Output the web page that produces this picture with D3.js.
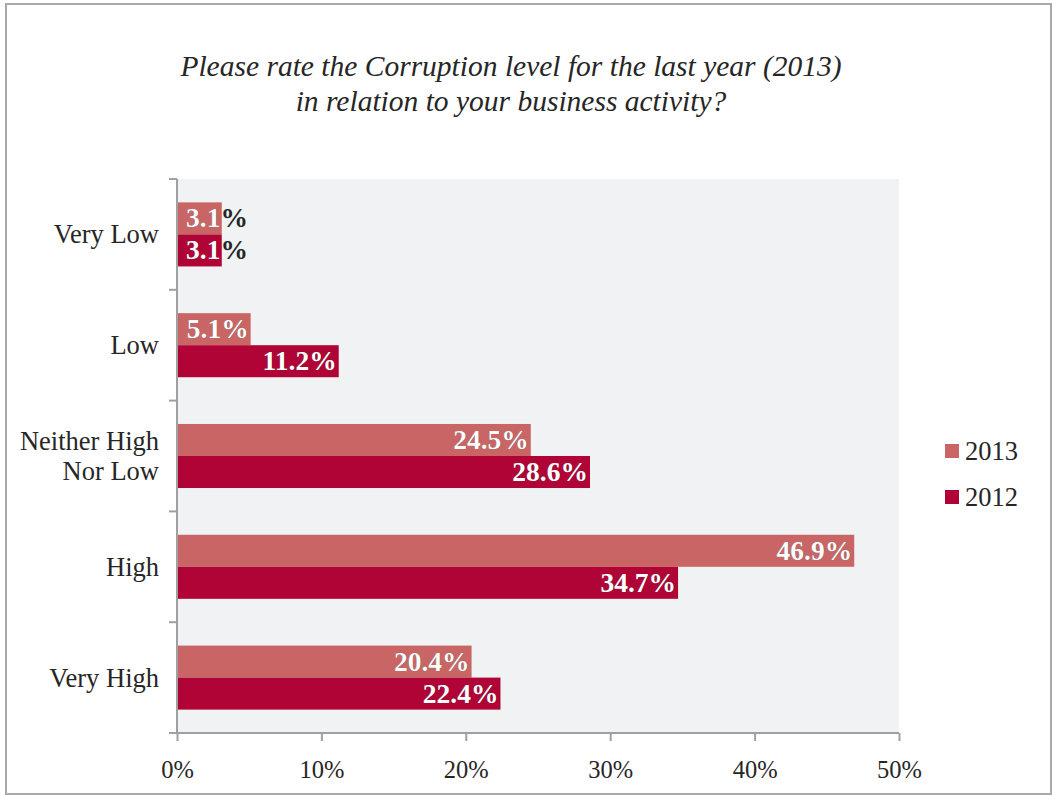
<!DOCTYPE html>
<html>
<head>
<meta charset="utf-8">
<script src="https://cdn.jsdelivr.net/npm/d3@7"></script>
<style>
  html, body { margin: 0; padding: 0; background: #ffffff; }
  svg { display: block; }
</style>
</head>
<body>
<svg id="chart" width="1053" height="796"></svg>
<script>
// Survey answers, share of respondents (%)
const categories = ["Very Low", "Low", "Neither High Nor Low", "High", "Very High"];
const categoryLines = [["Very Low"], ["Low"], ["Neither High", "Nor Low"], ["High"], ["Very High"]];
const seriesNames = ["2013", "2012"];
const values2013 = [3.1, 5.1, 24.5, 46.9, 20.4];
const values2012 = [3.1, 11.2, 28.6, 34.7, 22.4];
const xTicks = [0, 10, 20, 30, 40, 50];
const titleLines = ["Please rate the Corruption level for the last year (2013)",
                    "in relation to your business activity?"];

const colors = { "2013": "#c96665", "2012": "#b00437" };
const seriesValues = { "2013": values2013, "2012": values2012 };

const svg = d3.select("#chart");
const plot = { left: 177, right: 899, top: 179, bottom: 733 };
const textColor = "#262626";
const serif = "Liberation Serif, serif";

// outer frame
svg.append("rect")
  .attr("x", 6).attr("y", 4).attr("width", 1045).attr("height", 790)
  .attr("fill", "#ffffff").attr("stroke", "#a9a9a9").attr("stroke-width", 2);

// title
const title = svg.append("text")
  .attr("text-anchor", "middle")
  .attr("font-family", serif)
  .attr("font-style", "italic")
  .attr("font-size", 29.5)
  .attr("fill", textColor);
titleLines.forEach((t, i) => {
  title.append("tspan").attr("x", 511).attr("y", 76 + i * 35).text(t);
});

// scales
const x = d3.scaleLinear().domain([0, 50]).range([plot.left, plot.right]);
const y = d3.scaleBand().domain(categories).range([plot.top, plot.bottom]).padding(0);
const inner = d3.scaleBand().domain(seriesNames)
  .range([0, y.bandwidth()]).paddingInner(0).paddingOuter(0.73);

// plot background
svg.append("rect")
  .attr("x", plot.left).attr("y", plot.top)
  .attr("width", plot.right - plot.left).attr("height", plot.bottom - plot.top)
  .attr("fill", "#f1f2f4");

// bars
const rows = [];
categories.forEach((c, i) => {
  seriesNames.forEach(s => rows.push({ cat: c, series: s, value: seriesValues[s][i] }));
});

svg.append("g").selectAll("rect").data(rows).join("rect")
  .attr("x", x(0))
  .attr("y", d => y(d.cat) + inner(d.series))
  .attr("width", d => x(d.value) - x(0))
  .attr("height", inner.bandwidth())
  .attr("fill", d => colors[d.series]);

// axes
const axisColor = "#a0a0a0";
const xAxis = svg.append("g")
  .attr("transform", `translate(0,${plot.bottom})`)
  .call(d3.axisBottom(x).tickValues(xTicks).tickFormat(d => d + "%").tickSize(8).tickSizeOuter(0));
xAxis.select(".domain").attr("stroke", axisColor).attr("stroke-width", 2)
  .attr("d", `M${plot.left - 8},0H${plot.right}`);
xAxis.selectAll(".tick line").attr("stroke", axisColor).attr("stroke-width", 2);
xAxis.selectAll(".tick text")
  .attr("font-family", serif).attr("font-size", 24.5)
  .attr("fill", textColor).attr("dy", null).attr("y", 45);

const yBoundaries = d3.range(categories.length).map(i => plot.top + i * y.bandwidth());
const yAxis = svg.append("g");
yAxis.append("line")
  .attr("x1", plot.left).attr("x2", plot.left)
  .attr("y1", plot.top).attr("y2", plot.bottom)
  .attr("stroke", axisColor).attr("stroke-width", 2);
yAxis.selectAll("line.tk").data(yBoundaries).join("line")
  .attr("class", "tk")
  .attr("x1", plot.left - 8).attr("x2", plot.left)
  .attr("y1", d => d).attr("y2", d => d)
  .attr("stroke", axisColor).attr("stroke-width", 2);

// category labels
categories.forEach((c, i) => {
  const lines = categoryLines[i];
  const cy = y(c) + y.bandwidth() / 2;
  const lh = 30;
  const t = svg.append("text")
    .attr("text-anchor", "end")
    .attr("font-family", serif)
    .attr("font-size", 26.5)
    .attr("fill", textColor);
  lines.forEach((l, j) => {
    t.append("tspan").attr("x", 159)
      .attr("y", cy + 9 + (j - (lines.length - 1) / 2) * lh).text(l);
  });
});

// value labels: dark copy underneath, white copy clipped to the bar
const labelFont = serif;
const labelSize = 27.5;
const defs = svg.append("defs");
rows.forEach((d, k) => {
  const bx = x(0), by = y(d.cat) + inner(d.series);
  const bw = x(d.value) - x(0), bh = inner.bandwidth();
  const label = d3.format(".1f")(d.value) + "%";
  const probe = svg.append("text")
    .attr("font-family", labelFont).attr("font-weight", "bold")
    .attr("font-size", labelSize).text(label);
  const tw = probe.node().getComputedTextLength();
  probe.remove();
  const xEnd = Math.max(bx + bw - 2, bx + 9 + tw);
  const ty = by + bh / 2 + 9;
  const clipId = "clip" + k;
  defs.append("clipPath").attr("id", clipId)
    .append("rect").attr("x", bx).attr("y", by).attr("width", bw).attr("height", bh);
  [[textColor, null], ["#ffffff", clipId]].forEach(([fill, clip]) => {
    const t = svg.append("text")
      .attr("x", xEnd).attr("y", ty)
      .attr("text-anchor", "end")
      .attr("font-family", labelFont).attr("font-weight", "bold")
      .attr("font-size", labelSize).attr("fill", fill).text(label);
    if (clip) t.attr("clip-path", `url(#${clip})`);
  });
});

// legend
const legend = svg.append("g");
seriesNames.forEach((s, i) => {
  const ly = 451 + i * 46;
  legend.append("rect").attr("x", 945).attr("y", ly - 7)
    .attr("width", 14).attr("height", 14).attr("fill", colors[s]);
  legend.append("text").attr("x", 965).attr("y", ly + 9)
    .attr("font-family", serif).attr("font-size", 26.5)
    .attr("fill", textColor).text(s);
});
</script>
</body>
</html>
